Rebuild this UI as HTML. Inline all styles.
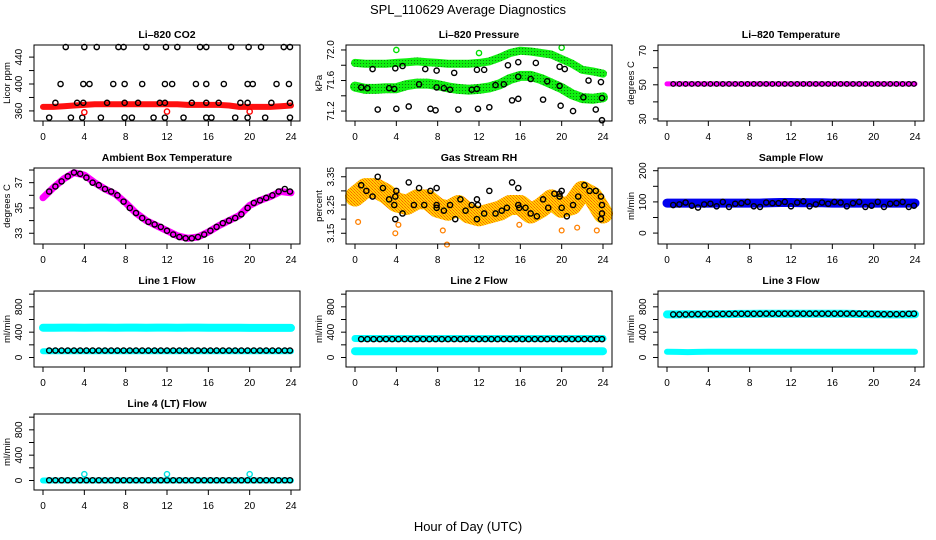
<!DOCTYPE html>
<html><head><meta charset="utf-8"><style>
html,body{margin:0;padding:0;background:#fff;}
svg{display:block;font-family:"Liberation Sans",sans-serif;}
</style></head><body>
<svg id="c" width="936" height="540" viewBox="0 0 936 540" xmlns="http://www.w3.org/2000/svg">
<defs>
<pattern id="pg" width="3" height="3" patternUnits="userSpaceOnUse"><rect width="3" height="3" fill="#10f010"/><rect width="1" height="1" fill="#108010"/></pattern>
<pattern id="po" width="3" height="3" patternUnits="userSpaceOnUse"><rect width="3" height="3" fill="#ffd000"/><rect width="1" height="1" fill="#ff6000"/><rect x="1" y="1" width="1" height="1" fill="#ff8000"/><rect x="2" y="2" width="1" height="1" fill="#ff7000"/></pattern>
</defs>
<text x="468" y="14" text-anchor="middle" font-size="13">SPL_110629  Average Diagnostics</text>
<text x="468" y="531" text-anchor="middle" font-size="13">Hour of Day (UTC)</text>
</svg>
<script>
// ---- data ----
const bandHours=[0,1,2,3,4,5,6,7,8,9,10,11,12,13,14,15,16,17,18,19,20,21,22,23,24];
const mkHours=[0.6,1.2,1.8,2.4,3.0,3.6,4.2,4.8,5.4,6.0,6.6,7.2,7.8,8.4,9.0,9.6,10.2,10.8,11.4,12.0,12.6,13.2,13.8,14.4,15.0,15.6,16.2,16.8,17.4,18.0,18.6,19.2,19.8,20.4,21.0,21.6,22.2,22.8,23.4,23.9];
const xTicks=[0,4,8,12,16,20,24];

const co2Band=[366,366,367,368,369,370,370,370,370,370,370,370,370,370,369,369,369,369,368,366,366,366,366,367,368];
const co2PtsX=[2.2,4,5.2,7.3,7.8,10,11.9,13,15.2,15.8,18.2,19.9,21.1,23.3,23.9, 1.7,3.9,4.5,6.8,7.9,9.6,11.8,12.5,14.8,15.8,17.5,19.8,20.3,22.6,23.8, 1.2,3.3,3.9,6.2,7.9,9.2,11.3,11.8,14.4,15.8,17,19.1,19.8,22.1,23.9, 0.6,2.7,3.8,5.6,7.9,8.6,10.7,11.8,13.6,15.8,16.3,18.6,19.8,21.5,23.9];
const co2PtsY=[455,455,455,455,455,455,455,455,455,455,455,455,455,455,455, 400,400,400,400,400,400,400,400,400,400,400,400,400,400,400, 372,372,372,372,372,372,372,372,372,372,372,372,372,372,372, 350,350,350,350,350,350,350,350,350,350,350,350,350,350,350];
const co2OutX=[4,12,20];
const co2OutY=[358,359,359];

const presBandHi=[71.83,71.82,71.82,71.82,71.83,71.84,71.85,71.84,71.83,71.82,71.82,71.82,71.83,71.85,71.90,71.96,71.99,71.98,71.96,71.94,71.88,71.82,71.74,71.72,71.69];
const presBandLo=[71.52,71.49,71.49,71.50,71.50,71.54,71.56,71.56,71.54,71.51,71.49,71.48,71.49,71.51,71.55,71.62,71.66,71.66,71.62,71.56,71.50,71.42,71.37,71.36,71.38];
const presPtsX=[1.7,3.9,4.6,6.8,7.9,9.6,11.8,12.5,14.8,15.8,17.5,19.8,20.3,22.6,23.8, 2.2,4,5.2,7.3,7.8,10,11.9,13,15.2,15.8,18.2,19.9,21.1,23.3,23.9, 0.6,1.2,3.3,3.8,6.2,7.9,8.6,9.2,11.3,11.8,13.6,14.4,15.8,17,18.6,19.8,22.1,23.9];
const presPtsY=[71.75,71.76,71.79,71.75,71.73,71.70,71.74,71.74,71.80,71.84,71.83,71.78,71.75,71.60,71.58, 71.22,71.23,71.26,71.23,71.21,71.22,71.23,71.25,71.34,71.36,71.35,71.27,71.20,71.22,71.08, 71.51,71.50,71.50,71.49,71.55,71.51,71.50,71.48,71.48,71.49,71.54,71.55,71.65,71.62,71.59,71.53,71.38,71.37];
const presOutX=[4,12,20];
const presOutY=[72.00,71.96,72.03];

const tempBand=[50.5,50.5,50.5,50.5,50.5,50.5,50.5,50.5,50.5,50.5,50.5,50.5,50.5,50.5,50.5,50.5,50.5,50.5,50.5,50.5,50.5,50.5,50.5,50.5,50.5];
const tempPts=[50.5,50.5,50.5,50.5,50.5,50.5,50.5,50.5,50.5,50.5,50.5,50.5,50.5,50.5,50.5,50.5,50.5,50.5,50.5,50.5,50.5,50.5,50.5,50.5,50.5,50.5,50.5,50.5,50.5,50.5,50.5,50.5,50.5,50.5,50.5,50.5,50.5,50.5,50.5,50.5];

const ambBand=[35.8,36.6,37.3,37.8,37.6,37.0,36.5,36.1,35.4,34.6,34.0,33.6,33.2,32.8,32.6,32.7,33.1,33.6,34.0,34.4,35.2,35.6,35.9,36.3,36.2];
const ambPts=[36.3,36.7,37.1,37.5,37.8,37.7,37.4,37.0,36.8,36.5,36.3,36.0,35.5,35.0,34.6,34.2,33.9,33.7,33.5,33.2,32.9,32.7,32.6,32.6,32.7,32.9,33.2,33.5,33.8,34.0,34.2,34.5,35.0,35.4,35.6,35.8,36.0,36.3,36.5,36.3];

const rhBand=[3.28,3.31,3.31,3.29,3.26,3.25,3.27,3.27,3.24,3.23,3.25,3.22,3.21,3.22,3.23,3.25,3.25,3.22,3.24,3.27,3.24,3.25,3.30,3.28,3.22];
const rhPtsX=[0.6,1.1,1.7,2.2,2.7,3.3,3.8,3.9,3.9,4,4.6,5.2,5.7,6.2,6.7,7.3,7.9,7.9,7.9,8.6,9.2,9.7,10.2,10.7,11.3,11.8,11.8,11.9,12.5,13,13.6,14.2,14.7,15.2,15.8,15.8,15.9,16.5,17,17.6,18.2,18.7,19.3,19.8,19.8,20,20,20.5,21.1,21.6,22.2,22.7,23.3,23.8,23.8,23.9,23.9];
const rhPtsY=[3.32,3.30,3.28,3.35,3.31,3.27,3.25,3.28,3.20,3.30,3.22,3.33,3.25,3.31,3.25,3.30,3.31,3.24,3.25,3.23,3.25,3.20,3.27,3.23,3.25,3.20,3.27,3.25,3.22,3.30,3.22,3.23,3.24,3.33,3.31,3.25,3.24,3.24,3.22,3.21,3.27,3.24,3.29,3.29,3.28,3.24,3.30,3.21,3.25,3.28,3.32,3.30,3.30,3.28,3.20,3.22,3.25];
const rhOutX=[0.3,3.9,4.2,8.5,8.9,15.9,20,21.5,23.4];
const rhOutY=[3.19,3.15,3.18,3.16,3.11,3.18,3.16,3.17,3.16];

const sfBand=[96,96,96,96,96,96,96,96,96,96,97,98,98,97,97,97,96,96,96,96,96,96,96,96,96];
const sfPts=[90,92,98,88,82,92,94,86,100,84,94,96,100,86,84,98,96,96,100,86,98,102,86,92,98,94,100,98,86,96,100,84,88,100,84,94,96,100,84,88];

const l1BandHi=[470,470,472,472,470,472,472,470,472,472,470,472,472,470,472,472,470,470,470,470,468,468,468,468,468];
const l1BandLo=[100,100,100,100,100,100,100,100,100,100,100,100,100,100,100,100,100,100,100,100,100,100,100,100,100];
const l1Pts=[110,110,110,110,110,110,110,110,110,110,110,110,110,110,110,110,110,110,110,110,110,110,110,110,110,110,110,110,110,110,110,110,110,110,110,110,110,110,110,110];

const l2BandHi=[300,300,300,300,300,300,300,300,300,300,300,300,300,300,300,300,300,300,300,300,300,300,300,300,300];
const l2BandLo=[100,100,100,100,100,100,100,100,100,100,100,100,100,100,100,100,100,100,100,100,100,100,100,100,100];
const l2Pts=[290,290,290,290,290,290,290,290,290,290,290,290,290,290,290,290,290,290,290,290,290,290,290,290,290,290,290,290,290,290,290,290,290,290,290,290,290,290,290,290];

const l3BandHi=[680,680,682,684,684,686,686,688,688,690,690,690,690,690,690,690,690,690,688,686,684,682,680,680,682];
const l3BandLo=[90,88,86,88,90,90,90,90,90,90,90,90,90,90,90,90,90,90,90,90,90,90,90,90,90];
const l3Pts=[680,680,680,682,684,684,686,686,688,688,690,690,690,690,690,692,692,692,692,692,692,692,692,692,692,692,692,692,692,694,692,690,688,686,684,684,684,686,690,692];

const l4Band=[0,0,0,0,0,0,0,0,0,0,0,0,0,0,0,0,0,0,0,0,0,0,0,0,0];
const l4Pts=[4,4,4,4,4,4,4,4,4,4,4,4,4,4,4,4,4,4,4,4,4,4,4,4,4,4,4,4,4,4,4,4,4,4,4,4,4,4,4,4];
const l4OutX=[4,12,20];
const l4OutY=[100,100,100];

// ---- drawing ----
const svg=document.getElementById('c');
const NS='http://www.w3.org/2000/svg';
function mk(tag,attrs,parent){const e=document.createElementNS(NS,tag);for(const k in attrs)e.setAttribute(k,attrs[k]);(parent||svg).appendChild(e);return e;}
const colL=[34,346,658], rowT=[45,168,291,414], W=266, H=76;

function panel(name,title,col,row,ymin,ymax,ticks,labels,ylab){
  const L=colL[col],T=rowT[row];
  const g=mk('g',{});
  
  
  const xs=h=>L+9+h*(W-18)/24;
  const ys=v=>T+H-(v-ymin)/(ymax-ymin)*H;
  const t=mk('text',{x:L+W/2,y:T-7,'text-anchor':'middle','font-size':'10.5','font-weight':'bold'},g);
  t.textContent=title;
  
  
  const yl=mk('text',{x:0,y:0,'text-anchor':'middle','font-size':'9.5',transform:`translate(${L-24},${T+H/2}) rotate(-90)`},g);
  yl.textContent=ylab;
  
  
  const data=mk('g',{},g);
  
  
  const ax=mk('g',{stroke:'#000','stroke-width':'1',fill:'none'},g);
  
  
  mk('rect',{x:L,y:T,width:W,height:H},ax);
  xTicks.forEach(h=>{mk('line',{x1:xs(h),x2:xs(h),y1:T+H,y2:T+H+5},ax);
    const tx=mk('text',{x:xs(h),y:T+H+19,'text-anchor':'middle','font-size':'10',fill:'#000',stroke:'none'},g);tx.textContent=h;
    
    });
  ticks.forEach((v,i)=>{mk('line',{x1:L-5,x2:L,y1:ys(v),y2:ys(v)},ax);
    if(labels[i]!==''){const ty=mk('text',{x:0,y:0,'text-anchor':'middle','font-size':'10',transform:`translate(${L-12},${ys(v)}) rotate(-90)`},g);ty.textContent=labels[i];
    
    }});
  return {g:data,xs,ys};
}
function band(p,hx,vals,color,w){
  const d=vals.map((v,i)=>(i?'L':'M')+p.xs(hx[i]).toFixed(1)+','+p.ys(v).toFixed(1)).join(' ');
  const e=mk('path',{d:d,stroke:color,'stroke-width':w,fill:'none','stroke-linecap':'round','stroke-linejoin':'round'},p.g);
  
  
}
function pts(p,hx,vals,color,r,sw){
  vals.forEach((v,i)=>{const c=mk('circle',{cx:p.xs(hx[i]),cy:p.ys(v),r:r||2.6,fill:'none',stroke:color||'#000','stroke-width':sw||1.4},p.g);
  
  });
}
let p;
p=panel('co2','Li\u2013820 CO2',0,0,345,458,[360,380,400,420,440],['360','','400','','440'],'Licor ppm');
band(p,bandHours,co2Band,'#ff1010',6); pts(p,co2PtsX,co2PtsY); pts(p,co2OutX,co2OutY,'#ff0000');
p=panel('pressure','Li\u2013820 Pressure',1,0,71.07,72.065,[71.2,71.4,71.6,71.8,72.0],['71.2','','71.6','','72.0'],'kPa');
band(p,bandHours,presBandHi,'url(#pg)',8); band(p,bandHours,presBandLo,'url(#pg)',10); pts(p,presPtsX,presPtsY); pts(p,presOutX,presOutY,'#00e000');
p=panel('li820-temperature','Li\u2013820 Temperature',2,0,28.8,73.3,[30,40,50,60,70],['30','','50','','70'],'degrees C');
band(p,bandHours,tempBand,'#ff00ff',5); pts(p,mkHours,tempPts,'#000',2.3,1.3);
p=panel('ambient-temperature','Ambient Box Temperature',0,1,32.15,38.16,[33,34,35,36,37,38],['33','','35','','37',''],'degrees C');
band(p,bandHours,ambBand,'#ff00ff',7); pts(p,mkHours,ambPts);
p=panel('gas-rh','Gas Stream RH',1,1,3.112,3.381,[3.15,3.20,3.25,3.30,3.35],['3.15','','3.25','','3.35'],'percent');
band(p,bandHours,rhBand,'url(#po)',20); pts(p,rhOutX,rhOutY,'#ff8000',2.4,1.3); pts(p,rhPtsX,rhPtsY);
p=panel('sample-flow','Sample Flow',2,1,-35,208.7,[0,50,100,150,200],['0','','100','','200'],'ml/min');
band(p,bandHours,sfBand,'#0000ee',9); pts(p,mkHours,sfPts);
const fT=[0,200,400,600,800,1000], fL=['0','','400','','800',''];
p=panel('line1-flow','Line 1 Flow',0,2,-150,1050,fT,fL,'ml/min');
band(p,bandHours,l1BandHi,'#00ffff',8); band(p,bandHours,l1BandLo,'#00ffff',6); pts(p,mkHours,l1Pts);
p=panel('line2-flow','Line 2 Flow',1,2,-150,1050,fT,fL,'ml/min');
band(p,bandHours,l2BandHi,'#00ffff',7); band(p,bandHours,l2BandLo,'#00ffff',8); pts(p,mkHours,l2Pts);
p=panel('line3-flow','Line 3 Flow',2,2,-150,1050,fT,fL,'ml/min');
band(p,bandHours,l3BandHi,'#00ffff',8); band(p,bandHours,l3BandLo,'#00ffff',6); pts(p,mkHours,l3Pts);
p=panel('line4-flow','Line 4 (LT) Flow',0,3,-150,1050,fT,fL,'ml/min');
band(p,bandHours,l4Band,'#00ffff',6); pts(p,mkHours,l4Pts); pts(p,l4OutX,l4OutY,'#00e0e0');
</script>
</body></html>
